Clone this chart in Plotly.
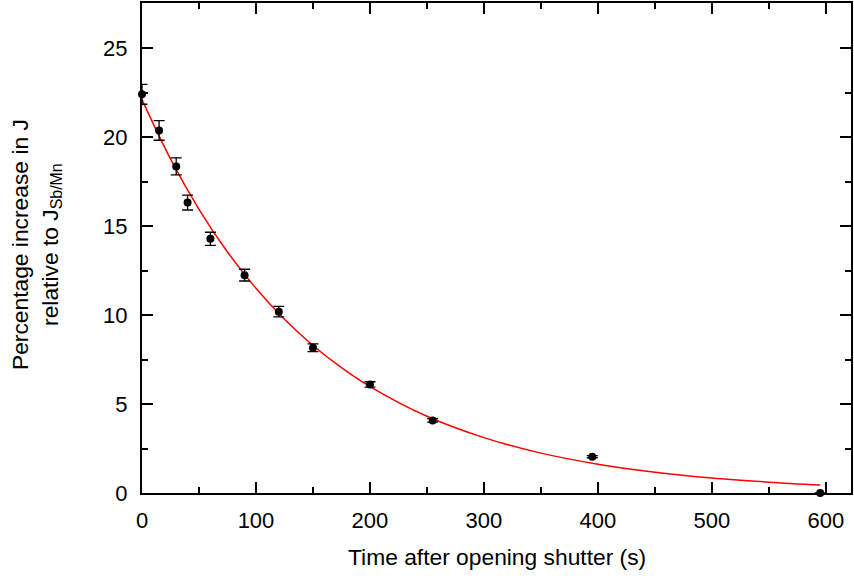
import plotly.graph_objects as go

# Measured data
time_s = [0, 15, 30, 40, 60, 90, 120, 150, 200, 255, 395, 595]
pct_increase = [22.4, 20.37, 18.35, 16.32, 14.28, 12.24, 10.19, 8.16, 6.10, 4.08, 2.04, 0.0]
pct_error = [0.56, 0.55, 0.48, 0.42, 0.37, 0.33, 0.30, 0.22, 0.15, 0.10, 0.06, 0.0]

# Fitted curve
fit_time = [0, 25, 50, 75, 100, 125, 150, 175, 200, 250, 300, 350, 400, 450, 500, 550, 595]
fit_value = [22.10, 18.77, 15.94, 13.54, 11.50, 9.76, 8.29, 7.04, 5.98, 4.31, 3.11, 2.24, 1.62, 1.17, 0.84, 0.61, 0.45]

x_ticks = [0, 100, 200, 300, 400, 500, 600]
y_ticks = [0, 5, 10, 15, 20, 25]

FONT = "Liberation Sans, Arial, sans-serif"

fig = go.Figure()
fig.add_trace(go.Scatter(
    x=fit_time, y=fit_value, mode="lines", line=dict(color="#ff0000", width=1.5, shape="spline"),
    hoverinfo="skip", showlegend=False, cliponaxis=False,
))
fig.add_trace(go.Scatter(
    x=time_s, y=pct_increase, mode="markers",
    marker=dict(color="black", size=8),
    error_y=dict(type="data", array=pct_error, visible=True, color="black", thickness=1.3, width=5.5),
    showlegend=False, cliponaxis=False,
))

axis_common = dict(
    showline=True, linecolor="black", linewidth=2, mirror="ticks",
    ticks="inside", ticklen=11, tickwidth=2, tickcolor="black",
    showgrid=False, zeroline=False,
    tickfont=dict(family=FONT, size=22, color="black"),
)

fig.update_xaxes(
    range=[0, 622], tickvals=x_ticks,
    minor=dict(ticks="inside", ticklen=6, tickwidth=2, tickcolor="black", dtick=50, tick0=0, showgrid=False),
    ticklabelstandoff=7,
    **axis_common,
)
fig.update_yaxes(
    range=[0, 27.53], tickvals=y_ticks,
    minor=dict(ticks="inside", ticklen=6, tickwidth=2, tickcolor="black", dtick=2.5, tick0=0, showgrid=False),
    ticklabelstandoff=8,
    **axis_common,
)

fig.update_layout(
    width=854, height=579,
    margin=dict(l=142, r=1, t=3, b=86),
    paper_bgcolor="white", plot_bgcolor="white",
    font=dict(family=FONT, size=22, color="black"),
    annotations=[
        dict(text="Time after opening shutter (s)", xref="paper", yref="paper",
             x=0.5, y=0, yshift=-64, xanchor="center", yanchor="middle",
             showarrow=False, font=dict(family=FONT, size=22.8, color="black")),
        dict(text="Percentage increase in J<br>relative to J<sub>Sb/Mn</sub>",
             xref="paper", yref="paper", x=0, y=0.506, xshift=-106,
             xanchor="center", yanchor="middle", textangle=-90, align="center",
             showarrow=False, font=dict(family=FONT, size=22.8, color="black")),
    ],
)

fig.write_html("out.html")
